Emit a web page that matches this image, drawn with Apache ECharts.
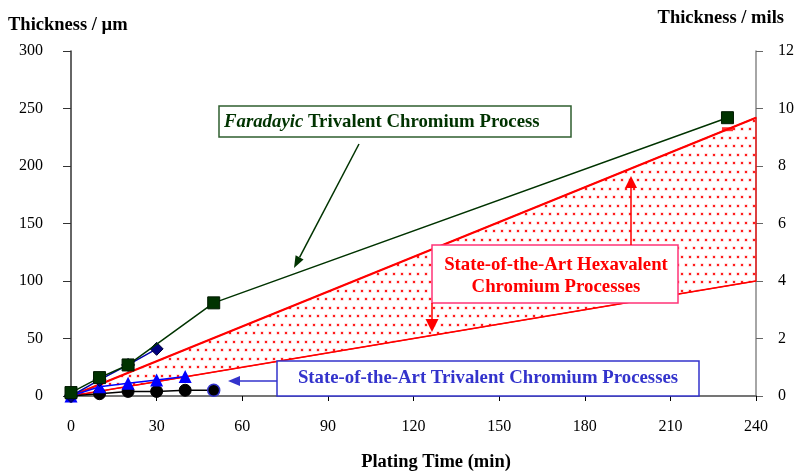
<!DOCTYPE html>
<html>
<head>
<meta charset="utf-8">
<script src="https://cdn.jsdelivr.net/npm/echarts@6/dist/echarts.min.js"></script>
<style>html,body{margin:0;padding:0;background:#fff}#c{width:800px;height:471px}</style>
</head>
<body>
<div id="c"></div>
<script>
// ---- data ----
const xTicks = [0, 30, 60, 90, 120, 150, 180, 210, 240];
const farTime = [0, 10, 20, 50, 230];
const farThk  = [3, 16, 27, 81, 242];
const diaTime = [0, 10, 20, 30];
const diaThk  = [0, 14, 27, 41];
const triTime = [0, 10, 20, 30, 40];
const triThk  = [0, 8, 11, 14, 17];
const cirTime = [0, 10, 20, 30, 40, 50];
const cirThk  = [0, 2, 4, 4, 5, 5];
const hexTime  = [0, 240];
const hexUpper = [0, 242];
const hexLower = [0, 100];
const hexMarkTime = [230];
const hexMarkThk  = [232];

const pair = (xs, ys) => xs.map((x, i) => [x, ys[i]]);
const FONT = "'Liberation Serif','Times New Roman',serif";
const AF = 18.8; // annotation font size
const TF = 18.5; // title font size

// dotted pattern
const pc = document.createElement('canvas');
pc.width = 8; pc.height = 17;
const pctx = pc.getContext('2d');
pctx.fillStyle = 'rgba(255,60,60,0.35)';
pctx.fillRect(0.5, 0.5, 3, 3);
pctx.fillRect(4.5, 8.5, 3, 3);
pctx.fillStyle = 'rgba(255,20,20,0.95)';
pctx.fillRect(1, 1, 2, 2);
pctx.fillRect(5, 9, 2, 2);

const chart = echarts.init(document.getElementById('c'));

function arrow(x1, y1, x2, y2, color, len, w, lw) {
  const dx = x2 - x1, dy = y2 - y1, d = Math.hypot(dx, dy);
  const ux = dx / d, uy = dy / d;
  const bx = x2 - ux * len, by = y2 - uy * len;
  return [
    {type: 'line', z: 100, shape: {x1: x1, y1: y1, x2: bx, y2: by}, style: {stroke: color, lineWidth: lw || 1.5}},
    {type: 'polygon', z: 100, shape: {points: [[x2, y2], [bx - uy * w / 2, by + ux * w / 2], [bx + uy * w / 2, by - ux * w / 2]]}, style: {fill: color}}
  ];
}

const graphics = [
  {type: 'text', z: 100, x: 8, y: 25, style: {text: 'Thickness / µm', font: 'bold ' + TF + 'px ' + FONT, fill: '#000', verticalAlign: 'middle'}},
  {type: 'text', z: 100, x: 784, y: 18, style: {text: 'Thickness / mils', font: 'bold ' + TF + 'px ' + FONT, fill: '#000', textAlign: 'right', verticalAlign: 'middle'}},
  {type: 'text', z: 100, x: 436, y: 462, style: {text: 'Plating Time (min)', font: 'bold ' + TF + 'px ' + FONT, fill: '#000', textAlign: 'center', verticalAlign: 'middle'}},
  // Faradayic box
  {type: 'rect', z: 100, shape: {x: 219, y: 106, width: 352, height: 31}, style: {fill: '#fff', stroke: '#2f5f2f', lineWidth: 1.5}},
  {type: 'text', z: 101, x: 224, y: 122, style: {text: '{i|Faradayic} Trivalent Chromium Process', font: 'bold ' + AF + 'px ' + FONT, fill: '#003300', verticalAlign: 'middle',
     rich: {i: {fontStyle: 'italic', fontWeight: 'bold', fontSize: AF, fontFamily: FONT, fill: '#003300', color: '#003300'}}}},
  ...arrow(359, 144, 294, 268, '#003300', 12, 9, 1.5),
  // Hexavalent box
  {type: 'rect', z: 100, shape: {x: 432, y: 245, width: 246, height: 58}, style: {fill: '#fff', stroke: '#ff3377', lineWidth: 1.5}},
  {type: 'text', z: 101, x: 556, y: 265, style: {text: 'State-of-the-Art Hexavalent', font: 'bold ' + AF + 'px ' + FONT, fill: '#ff0000', textAlign: 'center', verticalAlign: 'middle'}},
  {type: 'text', z: 101, x: 556, y: 287, style: {text: 'Chromium Processes', font: 'bold ' + AF + 'px ' + FONT, fill: '#ff0000', textAlign: 'center', verticalAlign: 'middle'}},
  ...arrow(631, 245, 631, 176, '#ff0000', 12, 12, 1.5),
  ...arrow(432, 303, 432, 332, '#ff0000', 13, 13, 1.5),
  // Trivalent box
  {type: 'rect', z: 100, shape: {x: 277, y: 361, width: 422, height: 35}, style: {fill: '#fff', stroke: '#3333cc', lineWidth: 1.5}},
  {type: 'text', z: 101, x: 488, y: 378, style: {text: 'State-of-the-Art Trivalent Chromium Processes', font: 'bold ' + AF + 'px ' + FONT, fill: '#3333cc', textAlign: 'center', verticalAlign: 'middle'}},
  ...arrow(277, 381, 228, 381, '#3333cc', 12, 10, 1.5)
];

const option = {
  animation: false,
  backgroundColor: '#fff',
  grid: {left: 71, right: 44, top: 51, bottom: 75},
  xAxis: [
    {type: 'value', min: 0, max: 240, interval: 30, position: 'bottom',
     axisLine: {onZero: false, lineStyle: {color: '#000', width: 1.5}},
     axisTick: {inside: false, length: 5, lineStyle: {color: '#000'}},
     axisLabel: {margin: 23, fontFamily: FONT, fontSize: 16, color: '#000'},
     splitLine: {show: false}},
    {type: 'value', min: 0, max: 240, position: 'top',
     axisLine: {show: true, lineStyle: {color: '#888', width: 1.5}},
     axisTick: {show: false}, axisLabel: {show: false}, splitLine: {show: false}}
  ],
  yAxis: [
    {type: 'value', min: 0, max: 300, interval: 50, position: 'left',
     axisLine: {show: true, onZero: false, lineStyle: {color: '#333', width: 1.5}},
     axisTick: {show: true, length: 8, lineStyle: {color: '#333'}},
     axisLabel: {margin: 28, fontFamily: FONT, fontSize: 16, color: '#000'},
     splitLine: {show: false}},
    {type: 'value', min: 0, max: 12, interval: 2, position: 'right',
     axisLine: {show: true, onZero: false, lineStyle: {color: '#888', width: 1.5}},
     axisTick: {show: true, length: 7, lineStyle: {color: '#666'}},
     axisLabel: {margin: 22, fontFamily: FONT, fontSize: 16, color: '#000'},
     splitLine: {show: false}}
  ],
  series: [
    {type: 'custom', coordinateSystem: 'cartesian2d', z: 1, data: [[0, 0]],
     renderItem: function (params, api) {
       const pts = hexTime.map((t, i) => api.coord([t, hexUpper[i]]))
         .concat(hexTime.slice().reverse().map((t, j) => api.coord([t, hexLower[hexTime.length - 1 - j]])));
       return {type: 'polygon', shape: {points: pts}, style: {fill: {image: pc, repeat: 'repeat'}, stroke: '#ff0000', lineWidth: 1.2}};
     }},
    {type: 'line', z: 2, data: pair(hexTime, hexLower), symbol: 'none', lineStyle: {color: '#ff0000', width: 1.5}},
    {type: 'line', z: 3, data: pair(hexTime, hexUpper), symbol: 'none', lineStyle: {color: '#ff0000', width: 2.2}},
    {type: 'scatter', z: 3, data: pair(hexMarkTime, hexMarkThk), symbol: 'rect', symbolSize: [11, 4], itemStyle: {color: '#ff0000'}},
    {type: 'line', z: 4, data: pair(cirTime, cirThk).map((p, i, a) => i === a.length - 1 ? {value: p, itemStyle: {borderColor: '#3333cc', borderWidth: 1.5}} : p),
     symbol: 'circle', symbolSize: 12, showAllSymbol: true, itemStyle: {color: '#000', borderColor: '#000'}, lineStyle: {color: '#000', width: 1.5}},
    {type: 'line', z: 5, data: pair(triTime, triThk), symbol: 'triangle', symbolSize: 13, showAllSymbol: true,
     itemStyle: {color: '#0000ff'}, lineStyle: {color: '#0000ff', width: 1.5}},
    {type: 'line', z: 6, data: pair(diaTime, diaThk), symbol: 'diamond', symbolSize: 13, showAllSymbol: true,
     itemStyle: {color: '#000080', borderColor: '#000033', borderWidth: 1}, lineStyle: {color: '#0000aa', width: 1.5}},
    {type: 'line', z: 7, data: pair(farTime, farThk), symbol: 'rect', symbolSize: 12, showAllSymbol: true,
     itemStyle: {color: '#003300', borderColor: '#001a00', borderWidth: 1}, lineStyle: {color: '#003300', width: 1.5}}
  ],
  graphic: graphics
};
chart.setOption(option);
</script>
</body>
</html>
